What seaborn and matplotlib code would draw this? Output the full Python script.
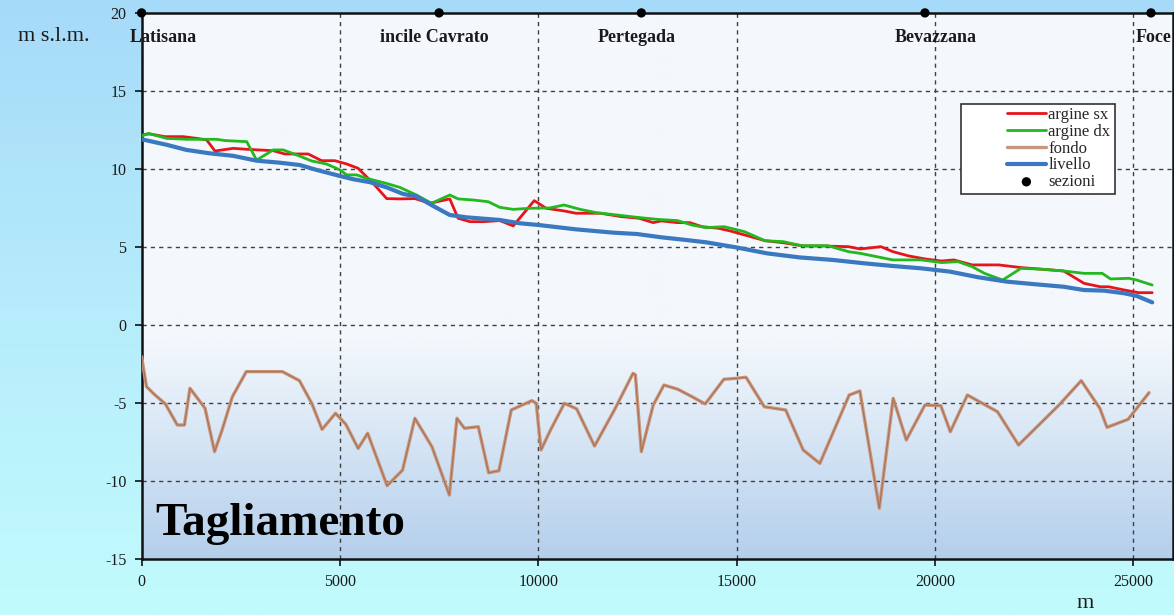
import numpy as np
import pandas as pd
import matplotlib
matplotlib.use('Agg')
import matplotlib.pyplot as plt
import seaborn as sns
from matplotlib.colors import LinearSegmentedColormap
from matplotlib.patches import Rectangle

sx_x = [0, 210, 590, 1050, 1390, 1640, 1850, 2310, 2650, 2940, 3320, 3610, 4200, 4540, 4870,
        5170, 5460, 5840, 6180, 6510, 6890, 7270, 7770, 7980, 8280, 8610, 9030, 9370, 9900,
        10200, 10650, 10950, 11570, 12080, 12540, 12900, 13100, 13510, 13820, 14130, 14540,
        14850, 15360, 15720, 16180, 16690, 17200, 17820, 18120, 18640, 18940, 19350, 19760,
        20170, 20480, 20940, 21610, 22170, 23250, 23760, 24170, 24380, 24780, 25140, 25480]
sx_y = [12.2, 12.24, 12.07, 12.07, 11.96, 11.86, 11.15, 11.32, 11.26, 11.22, 11.17, 10.96,
        10.96, 10.53, 10.53, 10.32, 10.04, 9.07, 8.1, 8.08, 8.1, 7.8, 8.08, 6.84, 6.62, 6.62,
        6.69, 6.35, 7.97, 7.48, 7.31, 7.16, 7.16, 6.95, 6.84, 6.56, 6.67, 6.56, 6.56, 6.3,
        6.2, 6.02, 5.66, 5.4, 5.27, 5.06, 5.06, 5.02, 4.87, 5.02, 4.7, 4.42, 4.23, 4.1, 4.17,
        3.85, 3.85, 3.68, 3.46, 2.67, 2.45, 2.45, 2.24, 2.07, 2.07]

dx_x = [0, 170, 630, 1130, 1550, 1890, 2100, 2650, 2900, 3320, 3570, 3910, 4290, 4660, 5000,
        5170, 5420, 5670, 6180, 6510, 6930, 7310, 7770, 7980, 8360, 8740, 9030, 9370, 9790,
        10290, 10650, 11060, 11460, 11980, 12490, 13000, 13510, 13870, 14230, 14690, 15200,
        15720, 16180, 16640, 17300, 17820, 18120, 18530, 18940, 19660, 20170, 20580, 20940,
        21250, 21710, 22170, 22740, 23250, 23760, 24220, 24430, 24890, 25090, 25480]
dx_y = [12.1, 12.28, 11.96, 11.9, 11.9, 11.9, 11.82, 11.75, 10.57, 11.22, 11.22, 10.9, 10.51,
        10.32, 9.94, 9.62, 9.62, 9.4, 9.07, 8.82, 8.33, 7.8, 8.33, 8.08, 8.01, 7.9, 7.54,
        7.41, 7.48, 7.5, 7.69, 7.41, 7.2, 7.05, 6.9, 6.77, 6.69, 6.41, 6.24, 6.3, 5.98, 5.4,
        5.34, 5.08, 5.08, 4.7, 4.59, 4.38, 4.17, 4.17, 4.0, 4.06, 3.74, 3.31, 2.88, 3.63,
        3.57, 3.46, 3.31, 3.31, 2.95, 2.99, 2.88, 2.56]

fondo_x = [0, 123, 340, 600, 900, 1080, 1220, 1600, 1840, 2030, 2290, 2640, 3550, 3980, 4290,
           4550, 4890, 5150, 5460, 5700, 6190, 6580, 6890, 7320, 7760, 7950, 8140, 8490, 8750,
           9010, 9320, 9840, 9950, 10070, 10310, 10660, 10970, 11420, 11920, 12390, 12450,
           12600, 12900, 13170, 13520, 13880, 14210, 14680, 14990, 15240, 15700, 16240, 16680,
           17100, 17840, 18110, 18600, 18950, 19280, 19750, 20150, 20390, 20820, 21580, 22110,
           23130, 23690, 24160, 24340, 24870, 25400]
fondo_y = [-2.03, -3.95, -4.49, -5.06, -6.41, -6.41, -4.06, -5.34, -8.12, -6.73, -4.59, -2.99,
           -2.99, -3.57, -5.02, -6.69, -5.66, -6.37, -7.91, -6.94, -10.3, -9.3, -5.98, -7.8,
           -10.9, -5.98, -6.62, -6.52, -9.47, -9.34, -5.45, -4.85, -5.02, -8.01, -6.73, -5.02,
           -5.38, -7.76, -5.45, -3.1, -3.2, -8.12, -5.13, -3.85, -4.12, -4.6, -5.06, -3.48,
           -3.42, -3.35, -5.24, -5.45, -8.01, -8.87, -4.49, -4.23, -11.75, -4.7, -7.37, -5.13,
           -5.17, -6.84, -4.49, -5.56, -7.69, -5.13, -3.57, -5.34, -6.56, -6.05, -4.34]

livello_x = [0, 630, 1130, 1720, 2310, 2900, 3490, 3990, 4410, 5000, 5340, 5760, 6180, 6590,
             6930, 7350, 7770, 8190, 9030, 9530, 10000, 10950, 11880, 12490, 13100, 13720,
             14230, 15000, 15770, 16590, 17420, 18230, 18940, 19660, 20380, 21090, 21810,
             22530, 23250, 23760, 24270, 24780, 25090, 25480]
livello_y = [11.9, 11.55, 11.22, 11.0, 10.84, 10.53, 10.4, 10.25, 9.94, 9.55, 9.34, 9.15, 8.82,
             8.4, 8.24, 7.63, 7.05, 6.9, 6.73, 6.52, 6.41, 6.13, 5.92, 5.83, 5.62, 5.45, 5.3,
             4.97, 4.59, 4.33, 4.17, 3.95, 3.78, 3.63, 3.42, 3.06, 2.78, 2.61, 2.45, 2.24, 2.2,
             2.03, 1.86, 1.45]

sez_x = [0, 7500, 12600, 19750, 25450]
sez_y = [20, 20, 20, 20, 20]
sez_nomi = ['Latisana', 'incile Cavrato', 'Pertegada', 'Bevazzana', 'Foce']
nomi_x = [-290, 7390, 12480, 20010, 25070]
nomi_ha = ['left', 'center', 'center', 'center', 'left']

sns.set_theme(style='white')
plt.rcParams['font.family'] = ['Liberation Serif', 'DejaVu Serif']
plt.rcParams['axes.unicode_minus'] = False

fig = plt.figure(figsize=(11.74, 6.15), dpi=100)

# sfondo figura (sfumato azzurro)
bg = fig.add_axes([0, 0, 1, 1], zorder=-10)
cm_bg = LinearSegmentedColormap.from_list('bg', ['#a6daf9', '#b6ecfb', '#c2fbfd'])
bg.imshow(np.linspace(0, 1, 256).reshape(-1, 1), cmap=cm_bg, aspect='auto', extent=[0, 1, 0, 1])
bg.set_axis_off()

ax = fig.add_axes([0.1206, 0.091, 0.8784, 0.888])
ax.set_facecolor('none')
cm_ax = LinearSegmentedColormap.from_list('ax', [(0, '#f4f8fc'), (0.6, '#f4f8fc'), (1, '#b4cfec')])
ax.imshow(np.linspace(0, 1, 256).reshape(-1, 1), cmap=cm_ax, aspect='auto',
          extent=[0, 1, 0, 1], transform=ax.transAxes, zorder=0)

sns.lineplot(x=sx_x, y=sx_y, ax=ax, color='#e8141c', lw=2.0, label='argine sx', estimator=None, zorder=4)
sns.lineplot(x=dx_x, y=dx_y, ax=ax, color='#22b81e', lw=2.0, label='argine dx', estimator=None, zorder=4)
sns.lineplot(x=fondo_x, y=fondo_y, ax=ax, color='#c8967c', lw=2.4, label='fondo', estimator=None, zorder=3)
sns.lineplot(x=fondo_x, y=fondo_y, ax=ax, color='#a86e50', lw=0.7, estimator=None, zorder=3)
sns.lineplot(x=livello_x, y=livello_y, ax=ax, color='#3a78c0', lw=3.0, label='livello', estimator=None, zorder=5)
sns.scatterplot(x=sez_x, y=sez_y, ax=ax, color='black', s=45, label='sezioni', zorder=6, clip_on=False, edgecolor='none')

for nx, nome, ha in zip(nomi_x, sez_nomi, nomi_ha):
    ax.text(nx, 18.45, nome, ha=ha, va='center', fontsize=13, fontweight='bold', color='#1a1a1a', zorder=7)

ax.text(340, -13.46, 'Tagliamento', ha='left', va='baseline', fontsize=34, fontweight='bold', color='black', zorder=7)

ax.set_xlim(0, 26000)
ax.set_ylim(-15, 20)
ax.set_xticks(range(0, 26000, 5000))
ax.set_yticks(range(-15, 21, 5))
ax.set_xlabel('')
ax.set_ylabel('')

for v in range(5000, 26000, 5000):
    ax.axvline(v, color='#404040', lw=1.0, ls=(0, (3, 3)), zorder=1)
for h in range(-10, 20, 5):
    ax.axhline(h, color='#404040', lw=1.0, ls=(0, (3, 3)), zorder=1)

for s in ax.spines.values():
    s.set_color('#111111')
    s.set_linewidth(1.8)
ax.tick_params(axis='both', direction='out', length=5, width=1.2, color='#111111',
               labelsize=11.5, labelcolor='#1a1a1a', left=True, bottom=True)
ax.tick_params(axis='y', pad=6)
ax.tick_params(axis='x', pad=6)

# riquadro legenda
ax.add_patch(Rectangle((0.7945, 0.6685), 0.1494, 0.1648, transform=ax.transAxes,
                       facecolor='white', edgecolor='#333333', lw=1.2, zorder=8))
ax.legend(loc='upper left', bbox_to_anchor=(0.839, 0.828), borderaxespad=0, fontsize=12,
          frameon=False, handlelength=2.35, handletextpad=0.15, labelspacing=0.05,
          borderpad=0).set_zorder(9)

fig.text(0.0153, 0.94, 'm s.l.m.', ha='left', va='center', fontsize=16, color='#1a1a1a')
fig.text(0.924, 0.0195, 'm', ha='center', va='center', fontsize=16, color='#1a1a1a')

fig.savefig('out.png', dpi=100)
